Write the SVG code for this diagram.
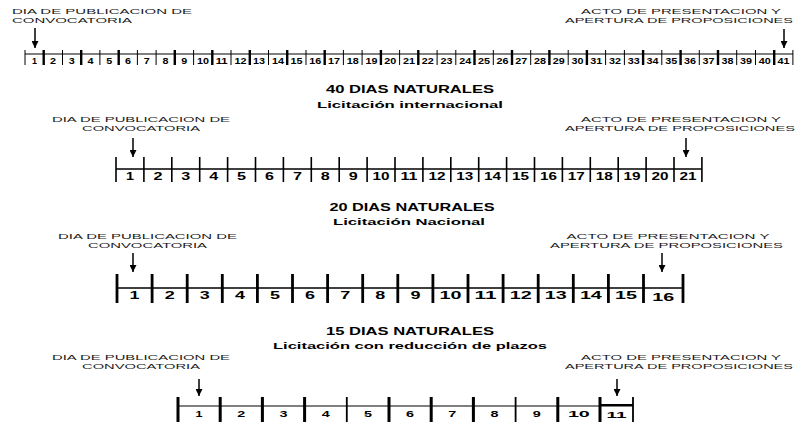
<svg xmlns="http://www.w3.org/2000/svg" width="798" height="425" viewBox="0 0 798 425">
<style>
.lbl{font-family:"Liberation Sans",Arial,sans-serif;font-size:7.8px;fill:#1a1a1a}
.hd{font-family:"Liberation Sans",Arial,sans-serif;font-weight:bold;font-size:10px;fill:#000}
.num{font-family:"Liberation Sans",Arial,sans-serif;font-weight:bold;fill:#000;text-anchor:middle}
.n1{font-size:8.5px}.n2{font-size:10.5px}.n3{font-size:10.5px}.n4{font-size:9.5px}
.mid{text-anchor:middle}
.tk{stroke:#000;fill:none}
.arr{stroke:#000;stroke-width:1.5;fill:none;marker-end:url(#ah)}
</style>
<defs>
<marker id="ah" viewBox="0 0 7 7" refX="7" refY="3.5" markerWidth="7" markerHeight="7" markerUnits="userSpaceOnUse" orient="auto"><path d="M0,0 L7,3.5 L0,7 z" fill="#000"/></marker>
</defs>
<rect width="798" height="425" fill="#fff"/>

<g id="labels">
<text class="lbl" x="12" y="14" textLength="180" lengthAdjust="spacingAndGlyphs">DIA DE PUBLICACION DE</text>
<text class="lbl" x="12" y="23" textLength="120" lengthAdjust="spacingAndGlyphs">CONVOCATORIA</text>
<text class="lbl mid" x="681" y="14" textLength="200" lengthAdjust="spacingAndGlyphs">ACTO DE PRESENTACION Y</text>
<text class="lbl mid" x="679" y="23" textLength="228" lengthAdjust="spacingAndGlyphs">APERTURA DE PROPOSICIONES</text>

<text class="lbl mid" x="141" y="122" textLength="178" lengthAdjust="spacingAndGlyphs">DIA DE PUBLICACION DE</text>
<text class="lbl mid" x="141" y="131" textLength="118" lengthAdjust="spacingAndGlyphs">CONVOCATORIA</text>
<text class="lbl mid" x="681" y="122" textLength="200" lengthAdjust="spacingAndGlyphs">ACTO DE PRESENTACION Y</text>
<text class="lbl mid" x="680" y="131" textLength="230" lengthAdjust="spacingAndGlyphs">APERTURA DE PROPOSICIONES</text>

<text class="lbl mid" x="147.5" y="239" textLength="179" lengthAdjust="spacingAndGlyphs">DIA DE PUBLICACION DE</text>
<text class="lbl mid" x="147.5" y="248" textLength="119" lengthAdjust="spacingAndGlyphs">CONVOCATORIA</text>
<text class="lbl mid" x="668" y="239" textLength="203" lengthAdjust="spacingAndGlyphs">ACTO DE PRESENTACION Y</text>
<text class="lbl mid" x="666.5" y="248" textLength="233" lengthAdjust="spacingAndGlyphs">APERTURA DE PROPOSICIONES</text>

<text class="lbl mid" x="141" y="360" textLength="178" lengthAdjust="spacingAndGlyphs">DIA DE PUBLICACION DE</text>
<text class="lbl mid" x="141" y="369" textLength="118" lengthAdjust="spacingAndGlyphs">CONVOCATORIA</text>
<text class="lbl mid" x="681" y="360" textLength="200" lengthAdjust="spacingAndGlyphs">ACTO DE PRESENTACION Y</text>
<text class="lbl mid" x="679" y="369" textLength="228" lengthAdjust="spacingAndGlyphs">APERTURA DE PROPOSICIONES</text>
</g>

<g id="headings">
<text class="hd mid" x="410" y="93" textLength="168" lengthAdjust="spacingAndGlyphs">40 DIAS NATURALES</text>
<text class="hd mid" x="410" y="107.5" style="font-size:9.5px" textLength="186" lengthAdjust="spacingAndGlyphs">Licitación internacional</text>
<text class="hd mid" x="412" y="210.5" textLength="165" lengthAdjust="spacingAndGlyphs">20 DIAS NATURALES</text>
<text class="hd mid" x="409" y="224.5" style="font-size:9.5px" textLength="152" lengthAdjust="spacingAndGlyphs">Licitación Nacional</text>
<text class="hd mid" x="410" y="335" textLength="168" lengthAdjust="spacingAndGlyphs">15 DIAS NATURALES</text>
<text class="hd mid" x="410" y="349" style="font-size:9.5px" textLength="274" lengthAdjust="spacingAndGlyphs">Licitación con reducción de plazos</text>
</g>

<g id="connectors">
<path class="arr" d="M35,28 V48"/>
<path class="arr" d="M784,29 V48"/>
<path class="arr" d="M133,138 V157"/>
<path class="arr" d="M686,138 V157"/>
<path class="arr" d="M133,253 V272"/>
<path class="arr" d="M662,253 V272"/>
<path class="arr" d="M199,379 V396"/>
<path class="arr" d="M617,379 V396"/>
</g>

<g id="timeline-40">
<path class="tk" stroke-width="1" d="M25 54H793"/>
<path class="tk" stroke-width="1" d="M25 50V65M62.5 50V65M99.9 50V65M137.4 50V65M156.1 50V65M193.6 50V65M231 50V65M268.5 50V65M306 50V65M343.4 50V65M362.1 50V65M399.6 50V65M437.1 50V65M455.8 50V65M493.3 50V65M530.7 50V65M568.2 50V65M605.6 50V65M624.4 50V65M661.8 50V65M699.3 50V65M736.7 50V65M755.5 50V65M792.9 50V65"/>
<path class="tk" stroke-width="2.4" d="M43.7 50V65M81.2 50V65M118.7 50V65M174.8 50V65M212.3 50V65M249.8 50V65M287.2 50V65M324.7 50V65M380.9 50V65M418.3 50V65M474.5 50V65M512 50V65M549.4 50V65M586.9 50V65M643.1 50V65M680.6 50V65M718 50V65M774.2 50V65"/>
<g class="num n1">
<text x="34.4" y="63.5" textLength="5" lengthAdjust="spacingAndGlyphs">1</text>
<text x="53.1" y="63.5" textLength="6" lengthAdjust="spacingAndGlyphs">2</text>
<text x="71.8" y="63.5" textLength="6" lengthAdjust="spacingAndGlyphs">3</text>
<text x="90.6" y="63.5" textLength="6" lengthAdjust="spacingAndGlyphs">4</text>
<text x="109.3" y="63.5" textLength="6" lengthAdjust="spacingAndGlyphs">5</text>
<text x="128" y="63.5" textLength="6" lengthAdjust="spacingAndGlyphs">6</text>
<text x="146.7" y="63.5" textLength="6" lengthAdjust="spacingAndGlyphs">7</text>
<text x="165.5" y="63.5" textLength="6" lengthAdjust="spacingAndGlyphs">8</text>
<text x="184.2" y="63.5" textLength="6" lengthAdjust="spacingAndGlyphs">9</text>
<text x="202.9" y="63.5" textLength="12" lengthAdjust="spacingAndGlyphs">10</text>
<text x="221.7" y="63.5" textLength="12" lengthAdjust="spacingAndGlyphs">11</text>
<text x="240.4" y="63.5" textLength="12" lengthAdjust="spacingAndGlyphs">12</text>
<text x="259.1" y="63.5" textLength="12" lengthAdjust="spacingAndGlyphs">13</text>
<text x="277.9" y="63.5" textLength="12" lengthAdjust="spacingAndGlyphs">14</text>
<text x="296.6" y="63.5" textLength="12" lengthAdjust="spacingAndGlyphs">15</text>
<text x="315.3" y="63.5" textLength="12" lengthAdjust="spacingAndGlyphs">16</text>
<text x="334" y="63.5" textLength="12" lengthAdjust="spacingAndGlyphs">17</text>
<text x="352.8" y="63.5" textLength="12" lengthAdjust="spacingAndGlyphs">18</text>
<text x="371.5" y="63.5" textLength="12" lengthAdjust="spacingAndGlyphs">19</text>
<text x="390.2" y="63.5" textLength="12" lengthAdjust="spacingAndGlyphs">20</text>
<text x="409" y="63.5" textLength="12" lengthAdjust="spacingAndGlyphs">21</text>
<text x="427.7" y="63.5" textLength="12" lengthAdjust="spacingAndGlyphs">22</text>
<text x="446.4" y="63.5" textLength="12" lengthAdjust="spacingAndGlyphs">23</text>
<text x="465.2" y="63.5" textLength="12" lengthAdjust="spacingAndGlyphs">24</text>
<text x="483.9" y="63.5" textLength="12" lengthAdjust="spacingAndGlyphs">25</text>
<text x="502.6" y="63.5" textLength="12" lengthAdjust="spacingAndGlyphs">26</text>
<text x="521.3" y="63.5" textLength="12" lengthAdjust="spacingAndGlyphs">27</text>
<text x="540.1" y="63.5" textLength="12" lengthAdjust="spacingAndGlyphs">28</text>
<text x="558.8" y="63.5" textLength="12" lengthAdjust="spacingAndGlyphs">29</text>
<text x="577.5" y="63.5" textLength="12" lengthAdjust="spacingAndGlyphs">30</text>
<text x="596.3" y="63.5" textLength="12" lengthAdjust="spacingAndGlyphs">31</text>
<text x="615" y="63.5" textLength="12" lengthAdjust="spacingAndGlyphs">32</text>
<text x="633.7" y="63.5" textLength="12" lengthAdjust="spacingAndGlyphs">33</text>
<text x="652.5" y="63.5" textLength="12" lengthAdjust="spacingAndGlyphs">34</text>
<text x="671.2" y="63.5" textLength="12" lengthAdjust="spacingAndGlyphs">35</text>
<text x="689.9" y="63.5" textLength="12" lengthAdjust="spacingAndGlyphs">36</text>
<text x="708.6" y="63.5" textLength="12" lengthAdjust="spacingAndGlyphs">37</text>
<text x="727.4" y="63.5" textLength="12" lengthAdjust="spacingAndGlyphs">38</text>
<text x="746.1" y="63.5" textLength="12" lengthAdjust="spacingAndGlyphs">39</text>
<text x="764.8" y="63.5" textLength="12" lengthAdjust="spacingAndGlyphs">40</text>
<text x="783.6" y="63.5" textLength="12" lengthAdjust="spacingAndGlyphs">41</text>
</g>
</g>

<g id="timeline-20">
<path class="tk" stroke-width="1.5" d="M116 169H702"/>
<path class="tk" stroke-width="1.6" d="M116 157V182M143.9 157V182M171.8 157V182M199.7 157V182M227.6 157V182M255.5 157V182M283.4 157V182M311.3 157V182M339.2 157V182M367.1 157V182M395 157V182M422.9 157V182M450.8 157V182M478.7 157V182M506.6 157V182M534.5 157V182M562.4 157V182M590.3 157V182M618.2 157V182M646.1 157V182M674 157V182M701.9 157V182"/>
<g class="num n2">
<text x="130" y="179.5" textLength="8" lengthAdjust="spacingAndGlyphs">1</text>
<text x="157.9" y="179.5" textLength="9" lengthAdjust="spacingAndGlyphs">2</text>
<text x="185.8" y="179.5" textLength="9" lengthAdjust="spacingAndGlyphs">3</text>
<text x="213.7" y="179.5" textLength="9" lengthAdjust="spacingAndGlyphs">4</text>
<text x="241.6" y="179.5" textLength="9" lengthAdjust="spacingAndGlyphs">5</text>
<text x="269.5" y="179.5" textLength="9" lengthAdjust="spacingAndGlyphs">6</text>
<text x="297.4" y="179.5" textLength="9" lengthAdjust="spacingAndGlyphs">7</text>
<text x="325.2" y="179.5" textLength="9" lengthAdjust="spacingAndGlyphs">8</text>
<text x="353.2" y="179.5" textLength="9" lengthAdjust="spacingAndGlyphs">9</text>
<text x="381.1" y="179.5" textLength="17" lengthAdjust="spacingAndGlyphs">10</text>
<text x="409" y="179.5" textLength="17" lengthAdjust="spacingAndGlyphs">11</text>
<text x="436.9" y="179.5" textLength="17" lengthAdjust="spacingAndGlyphs">12</text>
<text x="464.8" y="179.5" textLength="17" lengthAdjust="spacingAndGlyphs">13</text>
<text x="492.6" y="179.5" textLength="17" lengthAdjust="spacingAndGlyphs">14</text>
<text x="520.5" y="179.5" textLength="17" lengthAdjust="spacingAndGlyphs">15</text>
<text x="548.4" y="179.5" textLength="17" lengthAdjust="spacingAndGlyphs">16</text>
<text x="576.3" y="179.5" textLength="17" lengthAdjust="spacingAndGlyphs">17</text>
<text x="604.2" y="179.5" textLength="17" lengthAdjust="spacingAndGlyphs">18</text>
<text x="632" y="179.5" textLength="17" lengthAdjust="spacingAndGlyphs">19</text>
<text x="660" y="179.5" textLength="17" lengthAdjust="spacingAndGlyphs">20</text>
<text x="688" y="179.5" textLength="17" lengthAdjust="spacingAndGlyphs">21</text>
</g>
</g>

<g id="timeline-15">
<path class="tk" stroke-width="1.5" d="M117 288H683"/>
<path class="tk" stroke-width="2.8" d="M117 274V303M152.1 274V303M187.2 274V303M222.3 274V303M257.4 274V303M292.5 274V303M327.6 274V303M362.7 274V303M397.8 274V303M432.9 274V303M468 274V303M503.1 274V303M538.2 274V303M573.3 274V303M608.4 274V303M643.5 274V303M683 274V303"/>
<g class="num n3">
<text x="134.6" y="299" textLength="10" lengthAdjust="spacingAndGlyphs">1</text>
<text x="169.7" y="299" textLength="10" lengthAdjust="spacingAndGlyphs">2</text>
<text x="204.8" y="299" textLength="10" lengthAdjust="spacingAndGlyphs">3</text>
<text x="239.9" y="299" textLength="10" lengthAdjust="spacingAndGlyphs">4</text>
<text x="275" y="299" textLength="10" lengthAdjust="spacingAndGlyphs">5</text>
<text x="310.1" y="299" textLength="10" lengthAdjust="spacingAndGlyphs">6</text>
<text x="345.2" y="299" textLength="10" lengthAdjust="spacingAndGlyphs">7</text>
<text x="380.3" y="299" textLength="10" lengthAdjust="spacingAndGlyphs">8</text>
<text x="415.4" y="299" textLength="10" lengthAdjust="spacingAndGlyphs">9</text>
<text x="450.5" y="299" textLength="22" lengthAdjust="spacingAndGlyphs">10</text>
<text x="485.6" y="299" textLength="22" lengthAdjust="spacingAndGlyphs">11</text>
<text x="520.7" y="299" textLength="22" lengthAdjust="spacingAndGlyphs">12</text>
<text x="555.8" y="299" textLength="22" lengthAdjust="spacingAndGlyphs">13</text>
<text x="590.9" y="299" textLength="22" lengthAdjust="spacingAndGlyphs">14</text>
<text x="626" y="299" textLength="22" lengthAdjust="spacingAndGlyphs">15</text>
<text x="663.3" y="301" textLength="22" lengthAdjust="spacingAndGlyphs">16</text>
</g>
</g>

<g id="timeline-reducido">
<path class="tk" stroke-width="1.2" d="M178 406H633"/>
<path class="tk" stroke-width="2" d="M600 405H633"/>
<path class="tk" stroke-width="3" d="M178 397V422M220.2 397V422M262.4 397V422M304.6 397V422M389 397V422M431.2 397V422M473.4 397V422M557.8 397V422M600 397V422"/>
<path class="tk" stroke-width="1.8" d="M346.8 397V422M515.6 397V422M633 397V422"/>
<g class="num n4">
<text x="199.1" y="417" textLength="7" lengthAdjust="spacingAndGlyphs">1</text>
<text x="241.3" y="417" textLength="8" lengthAdjust="spacingAndGlyphs">2</text>
<text x="283.5" y="417" textLength="8" lengthAdjust="spacingAndGlyphs">3</text>
<text x="325.7" y="417" textLength="8" lengthAdjust="spacingAndGlyphs">4</text>
<text x="367.9" y="417" textLength="8" lengthAdjust="spacingAndGlyphs">5</text>
<text x="410.1" y="417" textLength="8" lengthAdjust="spacingAndGlyphs">6</text>
<text x="452.3" y="417" textLength="8" lengthAdjust="spacingAndGlyphs">7</text>
<text x="494.5" y="417" textLength="8" lengthAdjust="spacingAndGlyphs">8</text>
<text x="536.7" y="417" textLength="8" lengthAdjust="spacingAndGlyphs">9</text>
<text x="578.9" y="417" textLength="22" lengthAdjust="spacingAndGlyphs">10</text>
<text x="616.5" y="418" textLength="20" lengthAdjust="spacingAndGlyphs">11</text>
</g>
</g>
</svg>
